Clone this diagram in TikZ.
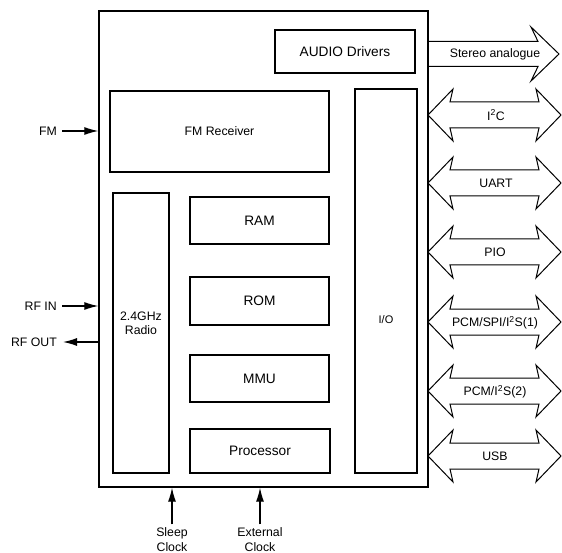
\documentclass[tikz,border=0pt]{standalone}
\usepackage{fontspec}
\setmainfont{Liberation Sans}
\usetikzlibrary{arrows.meta}
\newcommand\portshape[1]{%
  \draw[port] (428,#1) -- (453,#1-26) -- (450,#1-13) -- (539,#1-13) -- (536,#1-26)
    -- (561,#1) -- (536,#1+26) -- (539,#1+13) -- (450,#1+13) -- (453,#1+26) -- cycle;}
\begin{document}
\begin{tikzpicture}[x=1pt,y=-1pt,
  blk/.style={draw, line width=1.2pt, inner sep=0pt},
  lbl/.style={font=\fontsize{12.3}{13.5}\selectfont, inner sep=0pt, align=center},
  biglbl/.style={font=\fontsize{13.7}{16}\selectfont, inner sep=0pt},
  sarrow/.style={line width=1.2pt, -{Latex[length=14pt,width=8pt]}},
  port/.style={line width=1pt, line join=miter}]
\useasboundingbox[fill=white] (0,0) rectangle (562,553);

% chip outline and internal blocks
\node[blk, line width=1.4pt, minimum width=329pt, minimum height=476pt] (chip) at (263.5,249) {};
\node[blk, biglbl, minimum width=140pt, minimum height=43pt] (audio) at (345,51.5) {AUDIO Drivers};
\node[blk, lbl, minimum width=219pt, minimum height=81pt] (fmrx) at (219.5,131.5) {FM Receiver};
\node[blk, minimum width=56pt, minimum height=280pt] (radio) at (141,333) {};
\node[lbl] (radiolbl) at (141,323.5) {2.4GHz\\Radio};
\node[blk, biglbl, minimum width=139pt, minimum height=47pt] (ram) at (259.5,220.5) {RAM};
\node[blk, biglbl, minimum width=139pt, minimum height=48pt] (rom) at (259.5,301) {ROM};
\node[blk, biglbl, minimum width=139pt, minimum height=47pt] (mmu) at (259.5,378.5) {MMU};
\node[blk, biglbl, minimum width=140pt, minimum height=44pt] (proc) at (260,451) {Processor};
\node[blk, minimum width=62pt, minimum height=384pt] (io) at (386,281) {};
\node[lbl, font=\fontsize{11}{13}\selectfont] (iolbl) at (386,320) {I/O};

% left side signals
\node[lbl, anchor=east] (fm) at (57,131) {FM};
\node[lbl, anchor=east] (rfin) at (57,306) {RF IN};
\node[lbl, anchor=east] (rfout) at (57,342) {RF OUT};
\draw[sarrow, shorten <=5pt] (fm.east) -- (fm.east -| chip.west);
\draw[sarrow, shorten <=5pt] (rfin.east) -- (rfin.east -| chip.west);
\draw[sarrow, shorten >=6pt] (rfout.east -| chip.west) -- (rfout.east);

% bottom clocks
\node[lbl, font=\fontsize{12.3}{15}\selectfont] (sleep) at (172,539.5) {Sleep\\Clock};
\node[lbl, font=\fontsize{12.3}{15}\selectfont] (ext) at (260,539.5) {External\\Clock};
\draw[sarrow, shorten <=3pt] (sleep.north) -- (sleep.north |- chip.south);
\draw[sarrow, shorten <=3pt] (ext.north) -- (ext.north |- chip.south);

% stereo output arrow
\draw[port] (428,41.5) -- (538,41.5) -- (531,27) -- (559,54) -- (531,81) -- (538,66.5) -- (428,66.5);
\node[lbl] (stereo) at (495,54) {Stereo analogue};

% bidirectional ports
\portshape{115}
\node[lbl] (i2c) at (496,115) {I\textsuperscript{2}C};
\portshape{183}
\node[lbl] (uart) at (496,183) {UART};
\portshape{252}
\node[lbl] (pio) at (495,252) {PIO};
\portshape{322}
\node[lbl] (pcm1) at (495,323) {PCM/SPI/I\textsuperscript{2}S(1)};
\portshape{391}
\node[lbl] (pcm2) at (495,392) {PCM/I\textsuperscript{2}S(2)};
\portshape{456}
\node[lbl] (usb) at (495,456) {USB};
\end{tikzpicture}
\end{document}
